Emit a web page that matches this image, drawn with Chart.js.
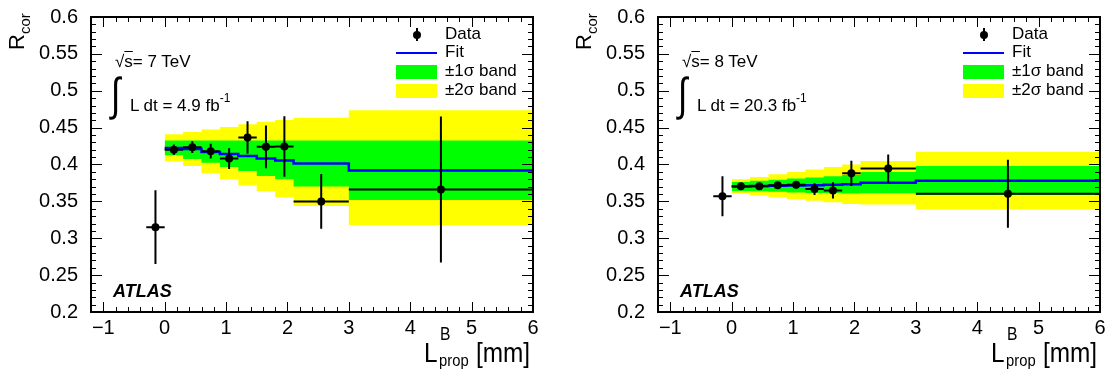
<!DOCTYPE html>
<html>
<head>
<meta charset="utf-8">
<script src="https://cdn.jsdelivr.net/npm/chart.js@4.4.1/dist/chart.umd.min.js"></script>
<style>
  html, body { margin: 0; padding: 0; background: #fff; overflow: hidden; }
  body { width: 1108px; height: 376px; position: relative; }
  .panel { position: absolute; top: 0; width: 541px; height: 376px; }
  .panel canvas { position: absolute; left: 0; top: 0; }
  .txt { position: absolute; line-height: 1; white-space: nowrap; color: #000;
         font-family: "Liberation Sans", Arial, sans-serif; }
  .box { position: absolute; }
</style>
</head>
<body>
<div class="panel" id="panel7" style="left:0px"><canvas id="chart7" width="541" height="376"></canvas></div>
<div class="panel" id="panel8" style="left:567px"><canvas id="chart8" width="541" height="376"></canvas></div>
<script>
// bins of the fit / bands (lower edges, last entry = upper end)
const binEdges = [0, 0.3, 0.6, 0.9, 1.2, 1.5, 1.8, 2.1, 3, 6];

// data points: centre and horizontal extent
const pointX   = [-0.15, 0.15, 0.45, 0.75, 1.05, 1.35, 1.65, 1.95, 2.55, 4.5];
const pointXLo = [-0.3, 0, 0.3, 0.6, 0.9, 1.2, 1.5, 1.8, 2.1, 3];
const pointXHi = [0, 0.3, 0.6, 0.9, 1.2, 1.5, 1.8, 2.1, 3, 6];

// sqrt(s) = 7 TeV
const data7 = [0.315, 0.420, 0.4235, 0.418, 0.408, 0.4365, 0.424, 0.4245, 0.350, 0.366];
const err7  = [0.050, 0.007, 0.008, 0.010, 0.014, 0.022, 0.029, 0.041, 0.037, 0.099];
const fit7      = [0.4225, 0.421, 0.417, 0.4143, 0.4116, 0.408, 0.4055, 0.4015, 0.392];
const green7Hi  = [0.4325, 0.4325, 0.4325, 0.4325, 0.4325, 0.4325, 0.4325, 0.4325, 0.4325];
const green7Lo  = [0.4125, 0.4076, 0.4023, 0.3965, 0.3912, 0.3845, 0.380, 0.3703, 0.352];
const yellow7Hi = [0.441, 0.444, 0.4475, 0.451, 0.4545, 0.458, 0.4605, 0.4635, 0.4735];
const yellow7Lo = [0.4045, 0.3978, 0.388, 0.380, 0.372, 0.3636, 0.3556, 0.3436, 0.3178];

// sqrt(s) = 8 TeV
const data8 = [0.357, 0.3705, 0.3705, 0.372, 0.3725, 0.3667, 0.3649, 0.388, 0.3947, 0.3604];
const err8  = [0.027, 0.003, 0.003, 0.004, 0.005, 0.008, 0.011, 0.017, 0.019, 0.046];
const fit8      = [0.3702, 0.3707, 0.3712, 0.3716, 0.372, 0.3726, 0.3733, 0.3753, 0.3778];
const green8Hi  = [0.3762, 0.3778, 0.3793, 0.381, 0.3825, 0.384, 0.3858, 0.3897, 0.3978];
const green8Lo  = [0.3642, 0.3636, 0.3631, 0.3622, 0.3615, 0.3612, 0.3608, 0.3609, 0.3585];
const yellow8Hi = [0.380, 0.383, 0.3867, 0.390, 0.3933, 0.3965, 0.400, 0.4048, 0.4173];
const yellow8Lo = [0.3604, 0.3584, 0.3557, 0.3532, 0.3507, 0.3487, 0.3466, 0.3458, 0.3391];

// axes
const xTicks = [-1, 0, 1, 2, 3, 4, 5, 6];
const xTickLabels = ['\u22121', '0', '1', '2', '3', '4', '5', '6'];
const yTicks = [0.2, 0.25, 0.3, 0.35, 0.4, 0.45, 0.5, 0.55, 0.6];
const yTickLabels = ['0.2', '0.25', '0.3', '0.35', '0.4', '0.45', '0.5', '0.55', '0.6'];

const FONT = '"Liberation Sans", Arial, sans-serif';

function stepPoints(vals) {
    return binEdges.map((x, i) => ({ x: x, y: vals[Math.min(i, vals.length - 1)] }));
}

function errorBarPoints(ys, errs) {
    const pts = [];
    ys.forEach((y, i) => {
        pts.push({ x: pointX[i], y: y - errs[i] }, { x: pointX[i], y: y + errs[i] }, { x: pointX[i], y: null });
        pts.push({ x: pointXLo[i], y: y }, { x: pointXHi[i], y: y }, { x: pointXHi[i], y: null });
    });
    return pts;
}

// ROOT style frame with ticks pointing inwards on all four sides
const rootFrame = {
    id: 'rootFrame',
    afterDatasetsDraw(chart) {
        const { ctx, chartArea: a, scales: { x, y } } = chart;
        ctx.save();
        ctx.strokeStyle = '#000';
        ctx.lineWidth = 1;
        ctx.beginPath();
        for (let k = -6; k <= 30; k++) {
            const v = k * 0.2;
            const px = Math.round(x.getPixelForValue(v)) + 0.5;
            const len = k % 5 === 0 ? 10 : 5;
            ctx.moveTo(px, a.bottom); ctx.lineTo(px, a.bottom - len);
            ctx.moveTo(px, a.top); ctx.lineTo(px, a.top + len);
        }
        for (let k = 20; k <= 60; k++) {
            const v = k * 0.01;
            const py = Math.round(y.getPixelForValue(v)) + 0.5;
            const len = k % 5 === 0 ? 11 : 5;
            ctx.moveTo(a.left, py); ctx.lineTo(a.left + len, py);
            ctx.moveTo(a.right, py); ctx.lineTo(a.right - len, py);
        }
        ctx.stroke();
        ctx.lineWidth = 2;
        ctx.strokeRect(a.left, a.top, a.right - a.left, a.bottom - a.top);
        ctx.restore();
    }
};

function makeChart(canvasId, ys, errs, fit, gHi, gLo, yHi, yLo) {
    const none = 'rgba(0,0,0,0)';
    return new Chart(document.getElementById(canvasId), {
        type: 'line',
        data: {
            datasets: [
                { data: pointX.map((x, i) => ({ x: x, y: ys[i] })), showLine: false,
                  pointRadius: 4, pointBackgroundColor: '#000', pointBorderWidth: 0 },
                { data: errorBarPoints(ys, errs), borderColor: '#000', borderWidth: 2,
                  pointRadius: 0, spanGaps: false },
                { data: stepPoints(fit), stepped: true, borderColor: '#0000ff', borderWidth: 2.5,
                  pointRadius: 0 },
                { data: stepPoints(gHi), stepped: true, borderColor: none, borderWidth: 0, pointRadius: 0,
                  fill: '+1', backgroundColor: '#00ff00' },
                { data: stepPoints(gLo), stepped: true, borderColor: none, borderWidth: 0, pointRadius: 0 },
                { data: stepPoints(yHi), stepped: true, borderColor: none, borderWidth: 0, pointRadius: 0,
                  fill: '+1', backgroundColor: '#ffff00' },
                { data: stepPoints(yLo), stepped: true, borderColor: none, borderWidth: 0, pointRadius: 0 }
            ]
        },
        options: {
            responsive: false,
            animation: false,
            layout: { padding: { top: 12, right: 8, left: 0, bottom: 0 } },
            plugins: { legend: { display: false }, tooltip: { enabled: false } },
            scales: {
                x: {
                    type: 'linear', min: -1.2, max: 6,
                    grid: { display: false }, border: { display: false },
                    afterBuildTicks: (s) => { s.ticks = xTicks.map((v) => ({ value: v })); },
                    afterFit: (s) => { s.height = 64; },
                    ticks: { callback: (v, i) => xTickLabels[i], color: '#000', padding: -4,
                             font: { family: FONT, size: 20 }, autoSkip: false, maxRotation: 0 }
                },
                y: {
                    type: 'linear', min: 0.2, max: 0.6,
                    grid: { display: false }, border: { display: false },
                    afterBuildTicks: (s) => { s.ticks = yTicks.map((v) => ({ value: v })); },
                    afterFit: (s) => { s.width = 91; },
                    ticks: { callback: (v, i) => yTickLabels[i], color: '#000', padding: 5,
                             font: { family: FONT, size: 20 }, autoSkip: false }
                }
            }
        },
        plugins: [rootFrame]
    });
}

function addText(panel, html, x, baseline, size, extra) {
    const el = document.createElement('div');
    el.className = 'txt';
    el.style.left = x + 'px';
    el.style.top = (baseline - 0.85 * size) + 'px';
    el.style.fontSize = size + 'px';
    el.innerHTML = html;
    if (extra) el.style.cssText += extra;
    panel.appendChild(el);
    return el;
}

function addBox(panel, x, y, w, h, css) {
    const el = document.createElement('div');
    el.className = 'box';
    el.style.cssText += `left:${x}px;top:${y}px;width:${w}px;height:${h}px;` + css;
    panel.appendChild(el);
}

function decorate(panelId, energy, lumi) {
    const panel = document.getElementById(panelId);
    // y title, rotated
    addText(panel, 'R<span style="font-size:15px;vertical-align:-6px">cor</span>', 6, 50, 22,
        'transform-origin:0 0;transform:rotate(-90deg);top:50px;');
    // x title
    const sx = 'transform-origin:0 0;transform:scaleX(0.87);';
    addText(panel, 'L', 424, 363, 28, sx);
    addText(panel, 'B', 440, 340, 18, sx);
    addText(panel, 'prop', 439, 366, 17, sx);
    addText(panel, '[mm]', 476, 363, 28, sx);
    // annotations
    addText(panel, '\u221A<span style="text-decoration:overline">s</span>= ' + energy + ' TeV', 115, 67.5, 17);
    addText(panel, '\u222B', 111, 110, 46, 'transform-origin:0 100%;transform:scaleX(0.75);');
    addText(panel, 'L dt = ' + lumi + ' fb<span style="font-size:12px;vertical-align:9px">-1</span>', 130, 106, 17);
    addText(panel, 'ATLAS', 113, 297, 18, 'font-weight:bold;font-style:italic;');
    // legend
    addBox(panel, 412.5, 30.5, 8, 8, 'background:#000;border-radius:50%;');
    addBox(panel, 415.5, 28, 2, 13, 'background:#000;');
    addText(panel, 'Data', 445, 39.5, 17);
    addBox(panel, 396, 52, 41, 2, 'background:#0000ff;');
    addText(panel, 'Fit', 445, 57.5, 17);
    addBox(panel, 396, 65, 41, 14, 'background:#00ff00;');
    addText(panel, '\u00B11\u03C3 band', 445, 76, 17);
    addBox(panel, 396, 84, 41, 14, 'background:#ffff00;');
    addText(panel, '\u00B12\u03C3 band', 445, 95, 17);
}

makeChart('chart7', data7, err7, fit7, green7Hi, green7Lo, yellow7Hi, yellow7Lo);
makeChart('chart8', data8, err8, fit8, green8Hi, green8Lo, yellow8Hi, yellow8Lo);
decorate('panel7', '7', '4.9');
decorate('panel8', '8', '20.3');
</script>
</body>
</html>
